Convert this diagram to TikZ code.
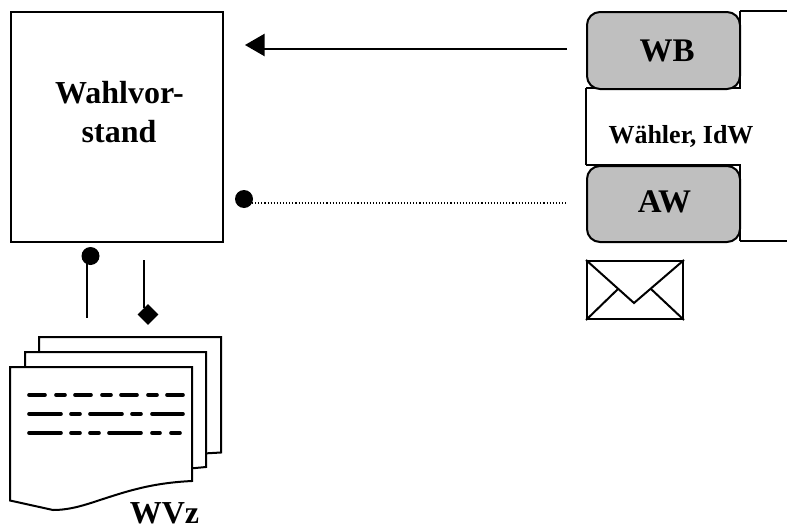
\documentclass[tikz,border=0pt]{standalone}
\usepackage{fontspec}
\setmainfont{Liberation Serif}
\usetikzlibrary{shapes.geometric}
\tikzset{
  lw/.style={line width=2pt,black},
  boxline/.style={draw=black,line width=2pt},
  big/.style={font=\fontsize{33}{38}\selectfont\bfseries,inner sep=0pt,anchor=base},
  mid/.style={font=\fontsize{26}{30}\selectfont\bfseries,inner sep=0pt,anchor=base},
  dot/.style={circle,fill=black,draw=none,minimum size=18pt,inner sep=0pt},
  gray box/.style={boxline,fill=black!25,rounded corners=13pt},
  page/.style={boxline,fill=white},
  textline/.style={line width=3.6pt,black,line cap=round},
}
\begin{document}
\begin{tikzpicture}[x=1pt,y=-1pt]
\useasboundingbox (0,0) rectangle (787,530);
% Wahlvorstand box
\node[boxline,minimum width=212pt,minimum height=230pt,anchor=north west,inner sep=0pt] (wv) at (10,11) {};
\node[big,font=\fontsize{32}{38}\selectfont\bfseries] (wvt1) at (119.5,103) {Wahlvor-};
\node[big,font=\fontsize{32}{38}\selectfont\bfseries] (wvt2) at (119,142) {stand};
% right side open shapes
\draw[lw] (586,88) -- (741,88);
\draw[lw] (586,164.5) -- (741,164.5);
\draw[lw] (586,88) -- (586,165);
\draw[lw] (740,11) -- (787,11);
\draw[lw] (740,11) -- (740,88);
\draw[lw] (740,165) -- (740,241);
\draw[lw] (740,241) -- (787,241);
\node[gray box,minimum width=153pt,minimum height=77pt,anchor=north west,inner sep=0pt] (wb) at (586,11) {};
\node[gray box,minimum width=153pt,minimum height=76pt,anchor=north west,inner sep=0pt] (aw) at (586,165) {};
\node[big] (wbt) at (667,61) {WB};
\node[big] (awt) at (664.5,212) {AW};
\node[mid] (idw) at (681,143) {Wähler, IdW};
% arrow
\coordinate (a1) at (567,49);
\coordinate (a2) at (262,49);
\draw[lw] (a1) -- (a2);
\node[fill=black,draw=none,regular polygon,regular polygon sides=3,shape border rotate=90,minimum size=26pt,inner sep=0pt] (head) at (258,45) {};
% dotted
\node[dot] (d1) at (244,199) {};
\coordinate (d2) at (567,203);
\draw[black,line width=1.1pt,dotted] (252,203) -- (d2);
% lower connectors
\node[dot] (d3) at (90.5,256) {};
\coordinate (c1) at (87,318);
\draw[lw] (87,262) -- (c1);
\node[diamond,fill=black,draw=none,minimum width=21pt,minimum height=21pt,inner sep=0pt,aspect=1] (dm) at (148,314.5) {};
\coordinate (c2) at (144,260);
\draw[lw] (c2) -- (144,308);
% envelope
\node[boxline,minimum width=96pt,minimum height=58pt,anchor=north west,inner sep=0pt] (env) at (586,260) {};
\draw[lw] (env.north west) -- (634,303) -- (env.north east);
\draw[lw] (env.south west) -- (618,289);
\draw[lw] (env.south east) -- (651,289);
% pages
\draw[page] (39,337) -- (221,337) -- (221,452.5) -- (195,454) -- (39,454) -- cycle;
\draw[page] (25,352) -- (206,352) -- (206,467) -- (185,469) -- (25,469) -- cycle;
\draw[page] (10,367) -- (192,367) -- (192,481) .. controls (150,483) and (125,492) .. (100,500) .. controls (85,505) and (70,510) .. (53,510) -- (10,500.5) -- cycle;
% text lines
\foreach \y/\list in {395/{29/45,56/65,75/91,102/111,121/137,148/157,167/183},
  414/{29/61,71/80,90/122,132/141,152/183},
  433/{29/61,71/80,90/99,109/141,152/160,171/180}}{
  \foreach \a/\b in \list { \draw[textline] (\a,\y) -- (\b,\y); }
}
\node[big,font=\fontsize{32}{36}\selectfont\bfseries] (wvz) at (164.5,523) {WVz};
\end{tikzpicture}
\end{document}
